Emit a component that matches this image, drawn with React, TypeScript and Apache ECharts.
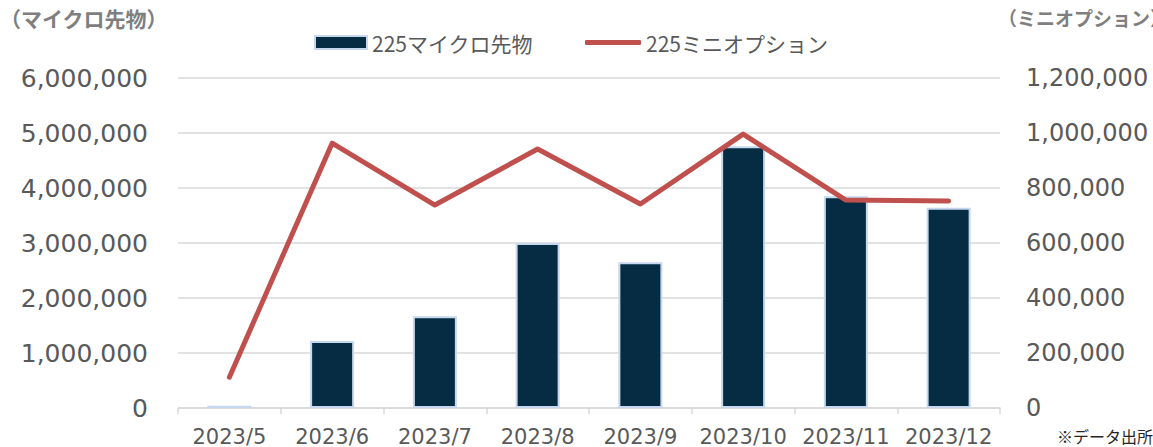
import React, { useEffect, useRef } from "react";
import * as echarts from "echarts";

const categories = ["2023/5", "2023/6", "2023/7", "2023/8", "2023/9", "2023/10", "2023/11", "2023/12"];
const microFutures = [40000, 1220000, 1670000, 3000000, 2650000, 4760000, 3850000, 3640000];
const miniOptions = [112000, 963000, 738000, 942000, 742000, 996000, 756000, 753000];
const leftTitle = "（マイクロ先物）";
const rightTitle = "（ミニオプション）";
const barName = "225マイクロ先物";
const lineName = "225ミニオプション";
const note = "※データ出所";

const NUM_FONT = "'DejaVu Sans', Verdana, sans-serif";
const JP_FONT = "'Noto Sans CJK JP', 'Noto Sans', sans-serif";
const fmt = (v: number) => v.toLocaleString("en-US");

export default function App() {
  const ref = useRef<HTMLDivElement>(null);
  useEffect(() => {
    if (!ref.current) return;
    const chart = echarts.init(ref.current, undefined, { renderer: "svg" });
    chart.setOption({
      animation: false,
      backgroundColor: "#ffffff",
      grid: { left: 178, right: 153, top: 78, bottom: 39, containLabel: false },
      legend: [
        {
          left: 309,
          top: 27,
          itemWidth: 52,
          itemHeight: 13,
          textStyle: { fontFamily: JP_FONT, fontSize: 21, color: "#595959" },
          data: [{ name: barName, icon: "rect" }],
        },
        {
          left: 580,
          top: 27,
          itemWidth: 56,
          itemHeight: 5,
          textStyle: { fontFamily: JP_FONT, fontSize: 21, color: "#595959" },
          data: [{ name: lineName, icon: "roundRect", itemStyle: { color: "#c0504d" } }],
        },
      ],
      xAxis: {
        type: "category",
        data: categories,
        boundaryGap: true,
        axisLine: { lineStyle: { color: "#d9d9d9", width: 1.5 } },
        axisTick: { show: true, alignWithLabel: false, length: 6, lineStyle: { color: "#d9d9d9", width: 1.5 } },
        axisLabel: { fontFamily: NUM_FONT, fontSize: 21, color: "#595959", margin: 18, interval: 0 },
      },
      yAxis: [
        {
          type: "value",
          min: 0,
          max: 6000000,
          interval: 1000000,
          axisLine: { show: false },
          axisTick: { show: false },
          splitLine: { lineStyle: { color: "#d9d9d9", width: 1.5 } },
          axisLabel: { fontFamily: NUM_FONT, fontSize: 25, color: "#595959", margin: 30, formatter: fmt },
        },
        {
          type: "value",
          min: 0,
          max: 1200000,
          interval: 200000,
          axisLine: { show: false },
          axisTick: { show: false },
          splitLine: { show: false },
          axisLabel: { fontFamily: NUM_FONT, fontSize: 24, color: "#595959", margin: 26, formatter: fmt },
        },
      ],
      series: [
        {
          name: barName,
          type: "bar",
          data: microFutures,
          barWidth: 44,
          itemStyle: { color: "#052c43", borderColor: "#c6d7ee", borderWidth: 2 },
          z: 2,
        },
        {
          name: lineName,
          type: "line",
          yAxisIndex: 1,
          data: miniOptions,
          symbol: "none",
          lineStyle: { color: "#c0504d", width: 5, cap: "round", join: "round" },
          itemStyle: { color: "#c0504d" },
          z: 3,
        },
      ],
      graphic: [
        {
          type: "text",
          left: 0,
          top: 7,
          style: { text: leftTitle, fontFamily: JP_FONT, fontSize: 21, fontWeight: "bold", fill: "#7f7f7f" },
        },
        {
          type: "text",
          left: 998,
          top: 8,
          style: { text: rightTitle, fontFamily: JP_FONT, fontSize: 19, fontWeight: "bold", fill: "#7f7f7f" },
        },
        {
          type: "text",
          right: 0,
          top: 428,
          style: { text: note, fontFamily: JP_FONT, fontSize: 16, fill: "#262626" },
        },
      ],
    });
    return () => chart.dispose();
  }, []);
  return <div ref={ref} style={{ width: 1153, height: 447, position: "absolute", left: 0, top: 0 }} />;
}
